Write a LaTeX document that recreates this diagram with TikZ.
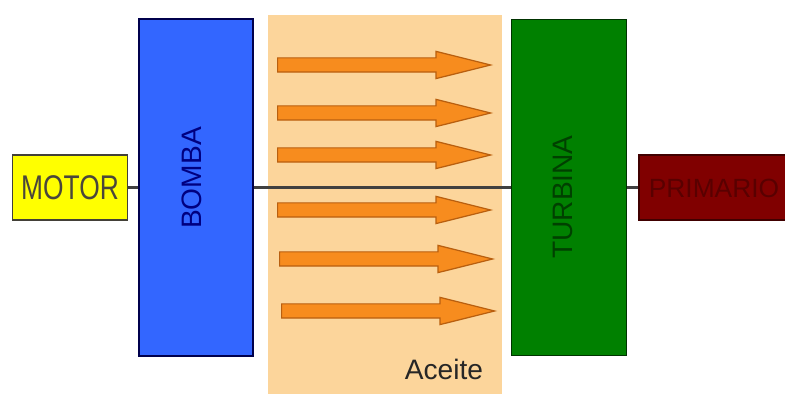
\documentclass[tikz,border=0pt]{standalone}
\usepackage{fontspec}
\setmainfont{Liberation Sans}
\usetikzlibrary{shapes.arrows}
\usetikzlibrary{positioning}
\definecolor{motoryellow}{RGB}{255,255,0}
\definecolor{bombablue}{RGB}{51,102,255}
\definecolor{turbinagreen}{RGB}{0,128,0}
\definecolor{primariored}{RGB}{128,0,0}
\definecolor{oilband}{RGB}{252,213,155}
\definecolor{floworange}{RGB}{247,140,30}
\definecolor{flowedge}{RGB}{185,95,15}

\begin{document}
\begin{tikzpicture}[x=0.02cm, y=-0.02cm, box/.style={rectangle, draw, line width=1.1pt, inner sep=0pt}]
    \tikzset{flow/.style={single arrow, draw=flowedge, fill=floworange, line width=0.7pt, inner sep=0.13cm, single arrow head extend=0.13cm, single arrow tip angle=28, minimum height=213*0.02cm, anchor=tail}}
    \tikzset{shaft/.style={draw=black!75, line width=1.2pt}}
    \fontsize{16}{19}\selectfont
    \clip (0,0) rectangle (785,394);
    
    % aceite
    \node[rectangle, fill=oilband, inner sep=0pt, minimum width=234*0.02cm, minimum height=379*0.02cm, anchor=north west] (aceite) at (268,15) {};
    \node[text=black!85] (aceitetxt) at (444,369) {Aceite};
    
    \node[box, fill=motoryellow, draw=black!85!yellow, text=black!82!yellow, minimum width=115*0.02cm, minimum height=65*0.02cm, font=\fontsize{15}{18}\selectfont] (motor) at (70,187.5) {\scalebox{1}[1.3]{MOTOR}};
    \node[box, fill=bombablue, draw=blue!30!black, minimum width=114*0.02cm, minimum height=337*0.02cm] (bomba) at (196,187.5) {};
    \node[box, fill=turbinagreen, draw=green!20!black, minimum width=115*0.02cm, minimum height=336*0.02cm] (turbina) at (569,187.5) {};
    \node[box, fill=primariored, draw=red!25!black, minimum width=161*0.02cm, minimum height=65*0.02cm] (primario) at (719.5,187.5) {};
    
    \node[rotate=90, text=blue!50!black] (bombatxt) at (192,178) {BOMBA};
    \node[rotate=90, text=green!25!black] (turbinatxt) at (563,197) {TURBINA};
    \node[text=red!35!black, font=\fontsize{15}{18}\selectfont] (primariotxt) at (714,188) {PRIMARIO};
    
    \draw[shaft] (motor) -- (bomba);
    \draw[shaft] (bomba) -- (turbina);
    \draw[shaft] (turbina) -- (primario);
    
    \node[flow] (f1) at (277,65) {};
    \node[flow] (f2) at (277,113) {};
    \node[flow] (f3) at (277,155) {};
    \node[flow] (f4) at (277,210) {};
    \node[flow] (f5) at (279,259) {};
    \node[flow] (f6) at (281,311) {};
    \end{tikzpicture}
\end{document}
